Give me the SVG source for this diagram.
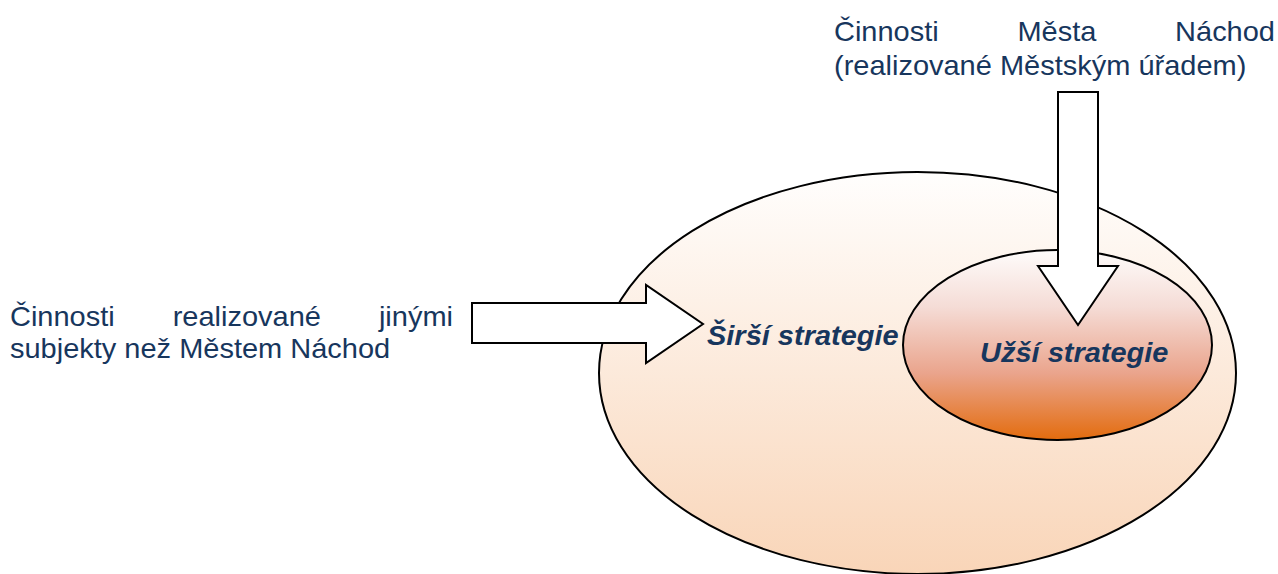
<svg xmlns="http://www.w3.org/2000/svg" width="1278" height="574" viewBox="0 0 1278 574">
<style>
.t{font-family:"Liberation Sans",Arial,sans-serif;font-size:29px;fill:#17365d}
.b{font-family:"Liberation Sans",Arial,sans-serif;font-size:29px;font-weight:bold;font-style:italic;fill:#17365d}
.arr{fill:#fff;stroke:#000;stroke-width:2;stroke-linejoin:miter}
.ell{stroke:#000;stroke-width:2}
</style>
<defs>
<linearGradient id="gOuter" x1="0" y1="0" x2="0" y2="1">
<stop offset="0" stop-color="#fffefd"/>
<stop offset="1" stop-color="#f9d5b8"/>
</linearGradient>
<linearGradient id="gInner" x1="0" y1="0" x2="0" y2="1">
<stop offset="0" stop-color="#fefcfb"/>
<stop offset="0.3" stop-color="#f5dcd6"/>
<stop offset="0.65" stop-color="#eaa48c"/>
<stop offset="1" stop-color="#e36c0e"/>
</linearGradient>
</defs>
<g id="sirsi">
<ellipse class="ell" cx="917.5" cy="373" rx="318.5" ry="201" fill="url(#gOuter)"/>
<g transform="translate(0,345) scale(1,0.94)"><text class="b" x="707" y="0">Širší strategie</text></g>
</g>
<g id="uzsi">
<ellipse class="ell" cx="1057.5" cy="345" rx="154.5" ry="95" fill="url(#gInner)"/>
<g transform="translate(0,362) scale(1,0.94)"><text class="b" x="980" y="0">Užší strategie</text></g>
</g>
<g id="connectors">
<polygon class="arr" points="1058,92 1098,92 1098,266 1118,266 1078,325 1038,266 1058,266"/>
<polygon class="arr" points="472,303 646,303 646,285 703,324 646,363 646,343 472,343"/>
</g>
<g id="mesto">
<g transform="translate(0,41) scale(1,0.94)">
<text class="t" x="834" y="0">Činnosti</text>
<text class="t" x="1017.4" y="0">Města</text>
<text class="t" x="1275" y="0" text-anchor="end">Náchod</text>
</g>
<g transform="translate(0,75) scale(1,0.94)">
<text class="t" x="834" y="0">(realizované Městským úřadem)</text>
</g>
</g>
<g id="jine">
<g transform="translate(0,326) scale(1,0.94)">
<text class="t" x="10" y="0">Činnosti</text>
<text class="t" x="172.7" y="0">realizované</text>
<text class="t" x="453" y="0" text-anchor="end">jinými</text>
</g>
<g transform="translate(0,358) scale(1,0.94)">
<text class="t" x="10" y="0">subjekty než Městem Náchod</text>
</g>
</g>
</svg>
